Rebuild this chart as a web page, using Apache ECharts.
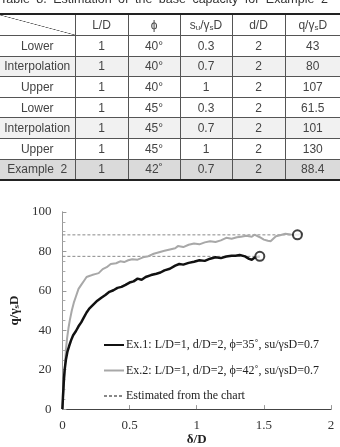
<!DOCTYPE html>
<html>
<head>
<meta charset="utf-8">
<script src="https://cdn.jsdelivr.net/npm/echarts@6/dist/echarts.min.js"></script>
<style>
  html, body { margin: 0; padding: 0; background: #fff; }
  #wrap { position: relative; width: 340px; height: 447px; overflow: hidden; }
  #chart { position: absolute; left: 0; top: 0; width: 340px; height: 447px; }
  #caption {
    position: absolute; left: 0; top: -8px; width: 340px;
    font: 12.5px "Liberation Sans", Arial, sans-serif; color: #333;
    word-spacing: 3px; white-space: nowrap;
  }
  #tbl {
    position: absolute; left: 0; top: 13px; width: 340px;
    border-collapse: collapse; table-layout: fixed;
    font: 12px "Liberation Sans", Arial, sans-serif; color: #444;
    border-top: 2px solid #222; border-bottom: 2px solid #222;
  }
  #tbl td { border: 1px solid #555; text-align: center; padding: 0; height: 19.6px; }
  #tbl tr td:first-child { border-left: none; }
  #tbl tr td:last-child { border-right: none; }
  #tbl tr.head td { height: 20px; }
  #tbl tr.interp td { background: #f1f1f1; }
  #tbl tr.ex td { background: #dadada; }
  #tbl td.diag {
    background: linear-gradient(to top right, transparent calc(50% - 0.6px), #555 50%, transparent calc(50% + 0.6px));
  }
  #tbl sub { font-size: 8px; vertical-align: -1px; }
</style>
</head>
<body>
<div id="wrap">
  <div id="chart"></div>
  <div id="caption">Table 8. Estimation of the base capacity for Example 2</div>
  <table id="tbl"></table>
</div>
<script>
// ---- table data ----
const tableHeaders = ['L/D', 'ϕ', 's<sub>u</sub>/γ<sub>s</sub>D', 'd/D', 'q/γ<sub>s</sub>D'];
const rowLabels = ['Lower', 'Interpolation', 'Upper', 'Lower', 'Interpolation', 'Upper', 'Example 2'];
const colLD  = ['1', '1', '1', '1', '1', '1', '1'];
const colPhi = ['40°', '40°', '40°', '45°', '45°', '45°', '42˚'];
const colSu  = ['0.3', '0.7', '1', '0.3', '0.7', '1', '0.7'];
const colDD  = ['2', '2', '2', '2', '2', '2', '2'];
const colQ   = ['43', '80', '107', '61.5', '101', '130', '88.4'];

// ---- chart data: [δ/D, q/γsD] ----
const ex1 = [
  [0, 0], [0.004, 6], [0.008, 11], [0.012, 16], [0.017, 20], [0.026, 25], [0.037, 29],
  [0.05, 32], [0.065, 35], [0.08, 37.5], [0.1, 39.5], [0.12, 42], [0.14, 44], [0.16, 46.5],
  [0.18, 49], [0.2, 51], [0.23, 53], [0.26, 55], [0.29, 56.5], [0.32, 57.9], [0.35, 59.5],
  [0.38, 60.3], [0.41, 61.5], [0.44, 62], [0.47, 63], [0.5, 64.2], [0.53, 64.8], [0.56, 66.2],
  [0.59, 65.6], [0.62, 67], [0.66, 68], [0.7, 68.7], [0.73, 69.3], [0.76, 70.4], [0.8, 71.2],
  [0.84, 72.8], [0.87, 73.6], [0.9, 73.3], [0.94, 74.2], [0.98, 74.8], [1.02, 75.5], [1.06, 75.2],
  [1.1, 76.3], [1.14, 77], [1.18, 76.6], [1.22, 77.4], [1.26, 77.8], [1.29, 77.8], [1.32, 78.2],
  [1.36, 77.5], [1.39, 76.2], [1.41, 75.8], [1.43, 76.8], [1.47, 77.5]
];
const ex2 = [
  [0, 0], [0.005, 6], [0.01, 11], [0.015, 17], [0.02, 23], [0.026, 30], [0.035, 36],
  [0.045, 41], [0.055, 45], [0.07, 50], [0.085, 54], [0.1, 57], [0.12, 61], [0.14, 63],
  [0.16, 65], [0.18, 67], [0.2, 67.5], [0.22, 68], [0.25, 68.6], [0.27, 69], [0.3, 71],
  [0.33, 72], [0.36, 73.6], [0.4, 74], [0.43, 75], [0.46, 74.6], [0.49, 75.5], [0.52, 76],
  [0.56, 75.8], [0.6, 77], [0.64, 77.6], [0.68, 78.8], [0.72, 79.6], [0.76, 80.3], [0.8, 81],
  [0.84, 81.6], [0.86, 82.7], [0.9, 82.2], [0.94, 83.4], [0.98, 84], [1.02, 83.6], [1.06, 84.6],
  [1.1, 85.2], [1.14, 84.8], [1.18, 85.6], [1.22, 86.9], [1.26, 86.4], [1.3, 87.2], [1.33, 87.5],
  [1.37, 87.9], [1.41, 87.4], [1.43, 88.5], [1.47, 87.2], [1.5, 86], [1.53, 85.4], [1.55, 85.2],
  [1.59, 87.7], [1.62, 88.2], [1.66, 89], [1.7, 88.6], [1.75, 88.4], [1.79, 89.2]
];
const estimated1 = [[0, 77.5], [1.47, 77.5]];
const estimated2 = [[0, 88.4], [1.75, 88.4]];
const endPoints = [[1.47, 77.5], [1.75, 88.4]];

const xTicks = [0, 0.5, 1, 1.5, 2];

// build the table
const tbl = document.getElementById('tbl');
let html = '<colgroup><col style="width:75px"><col style="width:53px"><col style="width:52px"><col style="width:52px"><col style="width:53px"><col></colgroup>';
html += '<tr class="head"><td class="diag"></td>' + tableHeaders.map(h => '<td>' + h + '</td>').join('') + '</tr>';
rowLabels.forEach((lab, i) => {
  const cls = lab === 'Interpolation' ? 'interp' : (lab === 'Example 2' ? 'ex' : '');
  const label = lab === 'Example 2' ? 'Example&nbsp;&nbsp;2' : lab;
  html += '<tr class="' + cls + '"><td>' + label + '</td><td>' + colLD[i] + '</td><td>' + colPhi[i] +
    '</td><td>' + colSu[i] + '</td><td>' + colDD[i] + '</td><td>' + colQ[i] + '</td></tr>';
});
tbl.innerHTML = html;

const SERIF = '"Liberation Serif", "Times New Roman", serif';
const chart = echarts.init(document.getElementById('chart'));

chart.setOption({
  animation: false,
  backgroundColor: 'transparent',
  grid: { left: 48, right: 9, top: 212, bottom: 34 },
  legend: {
    orient: 'vertical',
    left: 98,
    top: 334,
    itemWidth: 20,
    itemHeight: 14,
    itemGap: 13.5,
    itemStyle: { opacity: 0 },
    textStyle: { fontFamily: SERIF, fontSize: 12, color: '#222', padding: [0, 0, 0, -3] },
    data: [
      'Ex.1: L/D=1, d/D=2, ϕ=35˚, su/γsD=0.7',
      'Ex.2: L/D=1, d/D=2, ϕ=42˚, su/γsD=0.7',
      'Estimated from the chart'
    ]
  },
  xAxis: [
    {
      type: 'value', min: 0, max: 2, interval: 0.5,
      name: 'δ/D', nameLocation: 'middle', nameGap: 22,
      nameTextStyle: { fontFamily: SERIF, fontSize: 13, fontWeight: 'bold', color: '#222' },
      axisLine: { lineStyle: { color: '#999' } },
      axisTick: { inside: true, length: 4, lineStyle: { color: '#999' } },
      axisLabel: {
        fontFamily: SERIF, fontSize: 13, color: '#333', margin: 10,
        formatter: v => (xTicks.includes(v) ? String(v) : '')
      },
      splitLine: { show: false }
    },
    {
      type: 'value', min: 0, max: 2, position: 'top',
      axisLine: { lineStyle: { color: '#444' } },
      axisTick: { show: false }, axisLabel: { show: false }, splitLine: { show: false }
    }
  ],
  yAxis: [
    {
      type: 'value', min: 0, max: 100, interval: 20,
      name: '{a|q/γ}{b|s}{a|D}', nameLocation: 'middle', nameGap: 28,
      nameTextStyle: {
        rich: {
          a: { fontFamily: SERIF, fontSize: 13, fontWeight: 'bold', color: '#222' },
          b: { fontFamily: SERIF, fontSize: 9, fontWeight: 'bold', color: '#222', verticalAlign: 'bottom' }
        }
      },
      axisLine: { lineStyle: { color: '#999' } },
      axisTick: { inside: true, length: 4, lineStyle: { color: '#999' } },
      minorTick: { show: true, splitNumber: 4, length: 3, lineStyle: { color: '#aaa' } },
      axisLabel: { fontFamily: SERIF, fontSize: 13, color: '#333', margin: 11 },
      splitLine: { show: false }
    },
    {
      type: 'value', min: 0, max: 100, position: 'right',
      axisLine: { show: true, lineStyle: { color: '#999' } },
      axisTick: { show: false }, axisLabel: { show: false }, splitLine: { show: false }
    }
  ],
  series: [
    {
      name: 'Estimated from the chart', type: 'line', data: estimated2,
      symbol: 'none', lineStyle: { color: '#888', width: 1, type: [3, 2] }, itemStyle: { color: '#888' }, z: 1
    },
    {
      name: 'Estimated from the chart', type: 'line', data: estimated1,
      symbol: 'none', lineStyle: { color: '#888', width: 1, type: [3, 2] }, itemStyle: { color: '#888' }, z: 1
    },
    {
      name: 'Ex.2: L/D=1, d/D=2, ϕ=42˚, su/γsD=0.7', type: 'line', data: ex2,
      symbol: 'none', lineStyle: { color: '#a8a8a8', width: 2 }, itemStyle: { color: '#a8a8a8' }, z: 2
    },
    {
      name: 'Ex.1: L/D=1, d/D=2, ϕ=35˚, su/γsD=0.7', type: 'line', data: ex1,
      symbol: 'none', lineStyle: { color: '#111', width: 2.5 }, itemStyle: { color: '#111' }, z: 3
    },
    {
      name: 'end', type: 'scatter', data: endPoints, symbol: 'circle', symbolSize: 9,
      itemStyle: { color: '#fff', borderColor: '#111', borderWidth: 2 }, z: 4
    }
  ]
});
</script>
</body>
</html>
